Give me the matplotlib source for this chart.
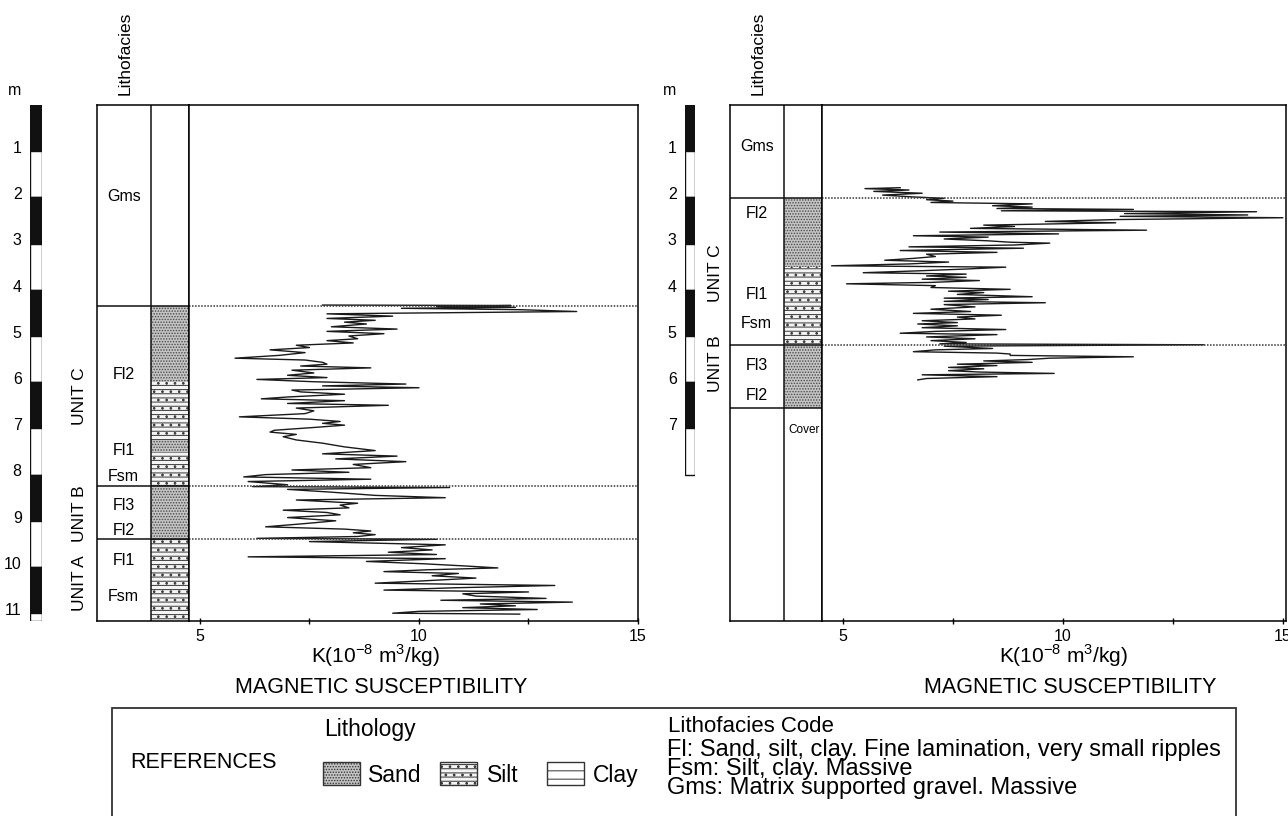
import matplotlib
matplotlib.use("Agg")
import matplotlib.pyplot as plt
from matplotlib.patches import Rectangle
from matplotlib.transforms import ScaledTranslation

plt.rcParams["font.family"] = ["Liberation Sans", "DejaVu Sans"]
plt.rcParams["mathtext.fontset"] = "custom"
plt.rcParams["mathtext.rm"] = "Liberation Sans"
plt.rcParams["hatch.linewidth"] = 0.7

W, H = 1288, 816
TOP, BOT = 105, 621
DMAX = (BOT - TOP) / 46.2

# ---- left profile (depth m, K 10^-8 m3/kg) ----
left_depth = [4.33, 4.34, 4.36, 4.38, 4.40, 4.43, 4.47, 4.52, 4.57, 4.62, 4.66, 4.70,
              4.74, 4.80, 4.85, 4.90, 4.95, 5.00, 5.06, 5.10, 5.15, 5.20, 5.25, 5.30,
              5.36, 5.42, 5.48, 5.52, 5.57, 5.61, 5.65, 5.69, 5.74, 5.80, 5.85, 5.90,
              5.94, 5.99, 6.04, 6.08, 6.12, 6.17, 6.21, 6.26, 6.32, 6.36, 6.40, 6.46,
              6.50, 6.56, 6.62, 6.68, 6.75, 6.80, 6.85, 6.89, 6.93, 6.98, 7.04, 7.08,
              7.13, 7.18, 7.25, 7.32, 7.40, 7.48, 7.55, 7.60, 7.66, 7.72, 7.78, 7.85,
              7.90, 7.95, 8.00, 8.05, 8.10, 8.15, 8.22, 8.26, 8.28, 8.32, 8.38, 8.45,
              8.50, 8.55, 8.62, 8.66, 8.72, 8.77, 8.82, 8.87, 8.93, 9.00, 9.06, 9.13,
              9.18, 9.22, 9.26, 9.30, 9.34, 9.38, 9.40, 9.45, 9.52, 9.58, 9.63, 9.68,
              9.73, 9.78, 9.82, 9.88, 9.93, 9.98, 10.02, 10.06, 10.10, 10.14, 10.19,
              10.24, 10.30, 10.35, 10.40, 10.45, 10.50, 10.54, 10.58, 10.63, 10.68,
              10.72, 10.76, 10.80, 10.84, 10.88, 10.92, 10.96, 11.00, 11.02]
left_k = [7.8, 12.1, 10.4, 12.2, 9.6, 12.3, 13.6, 7.9, 9.4, 7.9, 9.0, 8.3,
          8.8, 8.0, 9.5, 7.9, 9.2, 8.4, 8.6, 7.9, 8.5, 7.2, 7.5, 6.6,
          7.4, 6.8, 5.8, 7.4, 7.8, 7.9, 7.3, 8.9, 7.1, 7.6, 7.0, 7.9,
          6.3, 7.6, 9.7, 7.8, 10.0, 7.1, 7.3, 8.3, 7.0, 6.4, 8.3, 7.0,
          9.3, 7.2, 7.6, 7.4, 5.9, 7.5, 8.2, 7.8, 8.3, 7.6, 6.7, 6.6,
          7.2, 6.9, 7.2, 7.8, 8.3, 9.0, 7.8, 9.5, 8.1, 9.7, 8.5, 8.9,
          7.1, 8.4, 6.5, 6.0, 8.9, 6.1, 7.0, 6.2, 10.7, 7.0, 8.0, 9.0,
          10.6, 7.2, 8.6, 8.2, 8.4, 6.9, 7.9, 8.2, 7.0, 8.1, 7.4, 6.5,
          8.3, 8.9, 8.5, 9.0, 8.6, 6.3, 10.4, 7.5, 10.6, 9.6, 10.3, 9.3,
          10.4, 6.1, 10.6, 8.8, 10.1, 11.1, 11.8, 10.2, 9.2, 10.9, 10.3,
          11.3, 10.1, 9.0, 13.1, 10.8, 9.2, 12.5, 11.0, 11.3, 12.9,
          10.5, 13.5, 11.4, 12.2, 11.0, 12.7, 10.0, 9.4, 12.3]

# ---- right profile ----
right_depth = [1.79, 1.81, 1.84, 1.87, 1.91, 1.95, 1.99, 2.02, 2.05, 2.08, 2.11, 2.14,
               2.18, 2.21, 2.24, 2.26, 2.29, 2.31, 2.35, 2.38, 2.41, 2.44, 2.48, 2.52,
               2.55, 2.60, 2.63, 2.67, 2.71, 2.75, 2.79, 2.83, 2.86, 2.90, 2.94, 2.97,
               2.99, 3.03, 3.07, 3.10, 3.15, 3.19, 3.23, 3.28, 3.32, 3.36, 3.40, 3.44,
               3.48, 3.51, 3.55, 3.59, 3.63, 3.66, 3.70, 3.73, 3.77, 3.80, 3.84, 3.87,
               3.91, 3.95, 3.99, 4.03, 4.06, 4.10, 4.15, 4.18, 4.21, 4.25, 4.28, 4.32,
               4.37, 4.42, 4.47, 4.51, 4.55, 4.59, 4.63, 4.67, 4.71, 4.74, 4.78, 4.82,
               4.86, 4.90, 4.94, 4.97, 5.02, 5.06, 5.10, 5.14, 5.17, 5.19, 5.22, 5.27,
               5.30, 5.34, 5.37, 5.39, 5.42, 5.45, 5.48, 5.51, 5.54, 5.57, 5.61, 5.64,
               5.68, 5.71, 5.75, 5.78, 5.81, 5.84, 5.88, 5.92, 5.95]
right_k = [6.3, 5.5, 6.5, 5.7, 6.8, 5.9, 6.6, 7.3, 6.9, 7.5, 7.0, 9.3,
           8.4, 9.3, 8.5, 11.6, 8.6, 14.4, 11.4, 14.2, 11.3, 15.0, 11.2, 9.6,
           11.2, 8.2, 8.9, 7.9, 11.9, 7.2, 9.9, 6.6, 8.3, 7.3, 8.3, 8.8,
           9.7, 8.9, 6.5, 9.1, 6.3, 8.5, 6.9, 7.1, 6.6, 5.95, 7.4, 6.5,
           4.74, 8.7, 7.8, 6.7, 5.46, 7.8, 6.9, 7.8, 6.8, 8.1, 7.0, 5.08,
           7.1, 7.0, 8.8, 7.4, 8.2, 7.6, 9.3, 7.3, 8.3, 7.3, 9.6, 7.3,
           8.0, 7.0, 7.9, 6.6, 8.6, 7.6, 8.0, 6.8, 7.6, 6.7, 7.6, 6.8,
           8.7, 7.1, 6.3, 8.5, 6.9, 8.0, 7.0, 7.8, 7.2, 13.2, 7.3, 8.4,
           7.1, 6.6, 8.5, 8.8, 8.8, 11.6, 9.7, 9.2, 8.2, 9.3, 7.6, 8.5,
           7.4, 8.2, 7.4, 8.1, 9.8, 6.8, 8.5, 6.9, 6.7]

# ---- columns ----
left_facies = ["Gms", "Fl2", "Fl1", "Fsm", "Fl3", "Fl2", "Fl1", "Fsm"]
left_facies_depth = [1.98, 5.84, 7.47, 8.04, 8.66, 9.2, 9.85, 10.64]
left_units = ["UNIT C", "UNIT B", "UNIT A"]
left_unit_depth = [6.31, 8.84, 10.35]
left_bounds = [4.35, 8.25, 9.4]
left_litho = [(4.35, 6.0, "sand"), (6.0, 7.25, "silt"), (7.25, 7.5, "sand"),
              (7.5, 8.25, "silt"), (8.25, 9.4, "sand"), (9.4, DMAX, "silt")]
left_scale = list(range(0, 12)) + [DMAX]

right_facies = ["Gms", "Fl2", "Fl1", "Fsm", "Fl3", "Fl2"]
right_facies_depth = [0.9, 2.34, 4.11, 4.73, 5.63, 6.28]
right_units = ["UNIT C", "UNIT B"]
right_unit_depth = [3.64, 5.59]
right_bounds = [2.02, 5.19]
right_base = 6.55
right_litho = [(2.02, 3.5, "sand"), (3.5, 5.19, "silt"), (5.19, right_base, "sand")]
right_scale = list(range(0, 9))

STYLE = {"sand": dict(facecolor="#c4c4c4", hatch="......", edgecolor="#4a4a4a"),
         "silt": dict(facecolor="#f4f4f4", hatch="----..", edgecolor="#3a3a3a"),
         "clay": dict(facecolor="white", hatch="--", edgecolor="#444444")}


def frect(x0, y0, x1, y1):
    return [x0 / W, 1 - y1 / H, (x1 - x0) / W, (y1 - y0) / H]


def fpt(x, y):
    return x / W, 1 - y / H


def draw_panel(fig, bar_x, col_x, data_x, xlim, scale, depth, k, facies, facies_depth,
               units, unit_depth, unit_x, bounds, litho, base=None):
    # scale bar
    bax = fig.add_axes(frect(bar_x[0], TOP, bar_x[1], BOT))
    bottoms = scale[:-1]
    heights = [b - a for a, b in zip(scale[:-1], scale[1:])]
    colors = ["#111111" if i % 2 == 0 else "white" for i in range(len(heights))]
    bax.bar(0, heights, bottom=bottoms, width=1, color=colors, edgecolor="#111111", lw=1)
    bax.set_xlim(-0.5, 0.5)
    bax.set_ylim(DMAX, 0)
    for s in bax.spines.values():
        s.set_visible(False)
    bax.set_xticks([])
    nums = list(range(1, int(scale[-1]) + 1 if scale[-1] % 1 else int(scale[-1])))
    bax.set_yticks(nums)
    bax.tick_params(axis="y", length=0, labelsize=11.5, pad=6)
    off = ScaledTranslation(0, 3 / 72, fig.dpi_scale_trans)
    for lab in bax.get_yticklabels():
        lab.set_transform(lab.get_transform() + off)
    fig.text(*fpt(bar_x[0] - 15, 95), "m", fontsize=11.5, ha="center", va="baseline")

    # lithofacies / lithology columns
    cax = fig.add_axes(frect(col_x[0], TOP, col_x[1], BOT))
    div = 54 / 92
    cax.set_xlim(0, 1)
    cax.set_ylim(DMAX, 0)
    cax.set_xticks([])
    cax.set_yticks([])
    for top, bot, kind in litho:
        cax.add_patch(Rectangle((div, top), 1 - div, bot - top, lw=0, **STYLE[kind]))
    cax.axvline(div, color="#111111", lw=1.1)
    for b in bounds:
        cax.axhline(b, color="#111111", lw=1.1)
    if base is not None:
        cax.axhline(base, color="#111111", lw=1.1)
    for name, d in zip(facies, facies_depth):
        cax.text(0.29, d, name, ha="center", va="center", fontsize=11.5)
    for name, d in zip(units, unit_depth):
        cax.text((unit_x - col_x[0]) / 92, d, name, rotation=90, ha="center",
                 va="center", fontsize=12.5, clip_on=False)
    for s in cax.spines.values():
        s.set_linewidth(1.1)
    fig.text(*fpt(col_x[0] + 28, 95), "Lithofacies", rotation=90, fontsize=12.5,
             ha="center", va="bottom")

    # data
    ax = fig.add_axes(frect(data_x[0], TOP, data_x[1], BOT))
    ax.plot(k, depth, color="#1a1a1a", lw=1.0)
    for b in bounds:
        ax.axhline(b, color="#333333", lw=1.1, ls=(0, (1, 1)))
    ax.set_xlim(*xlim)
    ax.set_ylim(DMAX, 0)
    ax.set_yticks([])
    ax.set_xticks([5, 10, 15])
    ax.set_xticks([7.5, 12.5], minor=True)
    ax.tick_params(axis="x", which="both", direction="inout", length=5, width=1,
                   labelsize=11.5, pad=3)
    for s in ax.spines.values():
        s.set_linewidth(1.1)
    return ax


fig = plt.figure(figsize=(W / 100, H / 100), dpi=100)

draw_panel(fig, (30, 42), (97, 189), (189, 638), (4.75, 15.0), left_scale,
           left_depth, left_k, left_facies, left_facies_depth, left_units,
           left_unit_depth, 80, left_bounds, left_litho)
draw_panel(fig, (685, 695), (730, 822), (822, 1286), (4.523, 15.07), right_scale,
           right_depth, right_k, right_facies, right_facies_depth, right_units,
           right_unit_depth, 716, right_bounds, right_litho, base=right_base)

fig.text(*fpt(804, 430), "Cover", fontsize=8.5, ha="center", va="center")

klabel = "K(10$^{\\mathregular{-8}}$ m$^{\\mathregular{3}}$/kg)"
for cx_k, cx_m in [(376, 381), (1064, 1070)]:
    fig.text(*fpt(cx_k, 663), klabel, fontsize=15, ha="center", va="baseline")
    fig.text(*fpt(cx_m, 693), "MAGNETIC SUSCEPTIBILITY", fontsize=15.5,
             ha="center", va="baseline")

# legend box
fig.add_artist(Rectangle(fpt(112, 840), (1236 - 112) / W, (840 - 708) / H,
                         transform=fig.transFigure, fill=False, edgecolor="#333333",
                         lw=1.3))
fig.text(*fpt(130, 768), "REFERENCES", fontsize=15.5, va="baseline")
fig.text(*fpt(324, 736), "Lithology", fontsize=16.5, va="baseline")
legend_items = [("Sand", "sand", 323, 368), ("Silt", "silt", 440, 487),
                ("Clay", "clay", 547, 593)]
for name, kind, sx, tx in legend_items:
    st = STYLE[kind]
    fig.add_artist(Rectangle(fpt(sx, 785), 37 / W, 23 / H, transform=fig.transFigure,
                             facecolor=st["facecolor"], hatch=st["hatch"],
                             edgecolor="#333333", lw=1))
    fig.text(*fpt(tx, 782), name, fontsize=16.5, va="baseline")

fig.text(*fpt(668, 732), "Lithofacies Code", fontsize=16, va="baseline")
codes = ["Fl: Sand, silt, clay. Fine lamination, very small ripples",
         "Fsm: Silt, clay. Massive",
         "Gms: Matrix supported gravel. Massive"]
fig.text(*fpt(667, 794), "\n".join(codes), fontsize=17, va="baseline",
         linespacing=0.82)

fig.savefig("out.png", dpi=100)
